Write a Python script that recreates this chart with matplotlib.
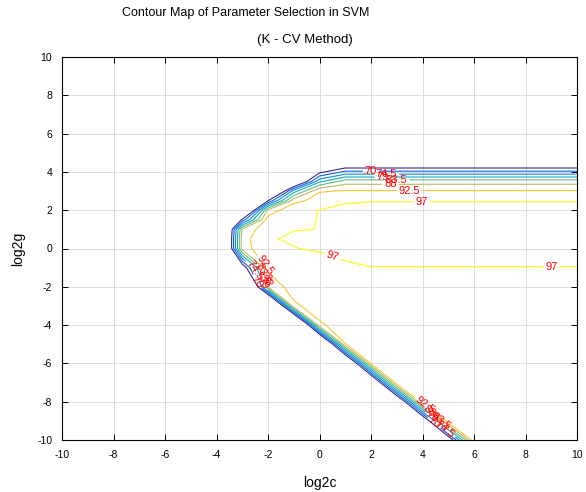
import numpy as np
import matplotlib
matplotlib.use("Agg")
import matplotlib.pyplot as plt
from matplotlib.colors import LinearSegmentedColormap

plt.rcParams['font.family'] = ['Liberation Sans', 'DejaVu Sans']
plt.rcParams['axes.unicode_minus'] = False

# grid of the parameter search (log2 of C and of gamma)
log2c = np.arange(-10, 11)
log2g = np.array([-10, -9, -8, -7, -6, -5, -4, -3, -2, -1, 0, 0.5, 1, 1.5,
                  2, 2.5, 3, 3.5, 4, 5, 6, 7, 8, 9, 10])

# cross-validation accuracy (%), one row per log2g value, columns follow log2c
accuracy = np.array([
    [30, 30, 30, 30, 30, 30, 30, 30, 30, 30, 30, 30, 30, 30, 30, 58.3, 96.5, 95.5, 95.8, 95.8, 95.8],
    [30, 30, 30, 30, 30, 30, 30, 30, 30, 30, 30, 30, 30, 30, 54.6, 96.5, 95.5, 95.8, 95.8, 95.8, 95.8],
    [30, 30, 30, 30, 30, 30, 30, 30, 30, 30, 30, 30, 30, 50.9, 96.5, 95.5, 95.8, 95.8, 95.8, 95.8, 95.8],
    [30, 30, 30, 30, 30, 30, 30, 30, 30, 30, 30, 30, 48.1, 96.5, 95.5, 95.8, 95.8, 95.8, 95.8, 95.8, 95.8],
    [30, 30, 30, 30, 30, 30, 30, 30, 30, 30, 30, 43.5, 92.7, 95.5, 95.8, 95.8, 95.8, 95.8, 95.8, 95.8, 95.8],
    [30, 30, 30, 30, 30, 30, 30, 30, 30, 30, 37.1, 92.4, 95.0, 95.5, 95.8, 95.8, 95.8, 95.8, 95.8, 95.8, 95.8],
    [30, 30, 30, 30, 30, 30, 30, 30, 30, 30, 91.67, 95.0, 95.6, 95.8, 95.8, 95.8, 95.8, 95.8, 95.8, 95.8, 95.8],
    [30, 30, 30, 30, 30, 30, 30, 30, 30, 91.5, 95.0, 95.3, 95.8, 95.8, 95.8, 95.8, 95.8, 95.8, 95.8, 95.8, 95.8],
    [30, 30, 30, 30, 30, 30, 30, 30, 88.7, 95.0, 95.3, 95.5, 96.0, 96.0, 96.0, 96.0, 96.0, 96.0, 96.0, 96.0, 96.0],
    [30, 30, 30, 30, 30, 30, 30, 60.1, 93.5, 95.5, 95.2, 96.46, 96.95, 96.95, 96.95, 96.95, 96.95, 96.95, 96.95, 96.95, 96.95],
    [30, 30, 30, 30, 30, 30, 30, 90.2, 96.5, 96.9, 97.4, 98.0, 98.0, 98.0, 98.0, 98.0, 98.0, 98.0, 98.0, 98.0, 98.0],
    [30, 30, 30, 30, 30, 30, 30, 90.6, 96.8, 97.3, 97.6, 98.8, 98.8, 98.8, 98.8, 98.8, 98.8, 98.8, 98.8, 98.8, 98.8],
    [30, 30, 30, 30, 30, 30, 30, 88.3, 96.3, 96.93, 97.02, 99.0, 99.0, 99.0, 99.0, 99.0, 99.0, 99.0, 99.0, 99.0, 99.0],
    [30, 30, 30, 30, 30, 30, 30, 66.8, 95.0, 96.7, 97.04, 98.8, 98.8, 98.8, 98.8, 98.8, 98.8, 98.8, 98.8, 98.8, 98.8],
    [30, 30, 30, 30, 30, 30, 30, 45, 89, 96.5, 97.05, 98.5, 98.5, 98.5, 98.5, 98.5, 98.5, 98.5, 98.5, 98.5, 98.5],
    [30, 30, 30, 30, 30, 30, 30, 35, 65.2, 90.8, 94.55, 96.3, 96.8, 96.8, 96.8, 96.8, 96.8, 96.8, 96.8, 96.8, 96.8],
    [30, 30, 30, 30, 30, 30, 30, 35, 45, 76.8, 92.17, 92.8, 92.8, 92.8, 92.8, 92.8, 92.8, 92.8, 92.8, 92.8, 92.8],
    [30, 30, 30, 30, 30, 30, 30, 35, 40, 52.2, 78, 86, 86, 86, 86, 86, 86, 86, 86, 86, 86],
    [30, 30, 30, 30, 30, 30, 30, 35, 40, 42, 64.1, 71, 71, 71, 71, 71, 71, 71, 71, 71, 71],
    [44, 44, 44, 44, 44, 44, 44, 44, 44, 44, 44, 44, 44, 44, 44, 44, 44, 44, 44, 44, 44],
    [44, 44, 44, 44, 44, 44, 44, 44, 44, 44, 44, 44, 44, 44, 44, 44, 44, 44, 44, 44, 44],
    [44, 44, 44, 44, 44, 44, 44, 44, 44, 44, 44, 44, 44, 44, 44, 44, 44, 44, 44, 44, 44],
    [44, 44, 44, 44, 44, 44, 44, 44, 44, 44, 44, 44, 44, 44, 44, 44, 44, 44, 44, 44, 44],
    [44, 44, 44, 44, 44, 44, 44, 44, 44, 44, 44, 44, 44, 44, 44, 44, 44, 44, 44, 44, 44],
    [44, 44, 44, 44, 44, 44, 44, 44, 44, 44, 44, 44, 44, 44, 44, 44, 44, 44, 44, 44, 44],
])

levels = [65.5, 70, 74.5, 79, 83.5, 88, 92.5, 97]

# where each level's labels sit (log2c, log2g); 65.5 carries no label
label_spots = {
    65.5: [],
    70: [(2.0, 4.05), (-2.45, -1.75), (4.45, -9.1)],
    74.5: [(2.6, 3.88), (-2.65, -1.2), (4.9, -9.4)],
    79: [(2.45, 3.73), (-2.25, -1.85), (4.35, -8.8)],
    83.5: [(3.0, 3.58), (-2.4, -1.4), (4.75, -9.0)],
    88: [(2.75, 3.36), (-2.1, -1.65), (4.3, -8.45)],
    92.5: [(3.5, 3.03), (-2.2, -1.0), (4.1, -8.2)],
    97: [(3.95, 2.44), (0.5, -0.41), (9.0, -0.95)],
}

parula = LinearSegmentedColormap.from_list(
    "parula_like",
    ['#352a87', '#0f5cdd', '#1481d6', '#06a4ca', '#2eb7a4',
     '#87bf77', '#d1bb59', '#fec832', '#f9fb0e'])
line_colors = [parula(k / (len(levels) - 1)) for k in range(len(levels))]

fig = plt.figure(figsize=(5.86, 4.92), dpi=100)
ax = fig.add_axes([62 / 586, 1 - 440 / 492, 515 / 586, 383 / 492])

for lev, col in zip(levels, line_colors):
    cs = ax.contour(log2c, log2g, accuracy, levels=[lev], colors=[col],
                    linewidths=0.8)
    if label_spots[lev]:
        cs.clabel(manual=label_spots[lev], inline=True, inline_spacing=2,
                  fmt=lambda v: f'{v:g}', fontsize=8, colors='red')

ax.set_xlim(-10, 10)
ax.set_ylim(-10, 10)
ax.set_xticks(np.arange(-10, 11, 2))
ax.set_yticks(np.arange(-10, 11, 2))
ax.set_axisbelow(True)
ax.grid(True, color='#dcdcdc', linewidth=0.7)
ax.tick_params(direction='in', top=True, right=True, length=4, width=0.7,
               labelsize=7.5, pad=7)
for sp in ax.spines.values():
    sp.set_linewidth(0.8)

ax.set_xlabel('log2c', fontsize=10, labelpad=12)
ax.set_ylabel('log2g', fontsize=10, labelpad=9)

fig.text(246 / 586, 1 - 13 / 492, 'Contour Map of Parameter Selection in SVM',
         ha='center', va='center', fontsize=9)
fig.text(305 / 586, 1 - 40 / 492, '(K - CV Method)',
         ha='center', va='center', fontsize=9.5)

fig.savefig('out.png', dpi=100, facecolor='white')
